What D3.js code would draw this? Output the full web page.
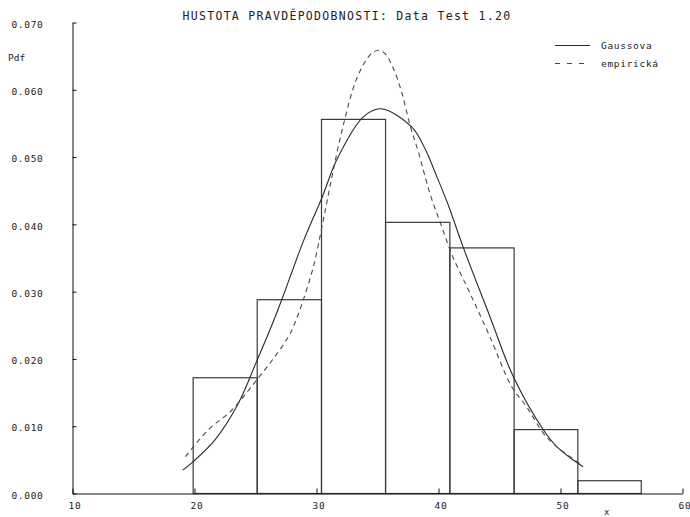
<!DOCTYPE html>
<html>
<head>
<meta charset="utf-8">
<script src="https://cdn.jsdelivr.net/npm/d3@7"></script>
<style>
  html, body { margin: 0; padding: 0; background: #fff; }
  svg { display: block; }
  text { font-family: "DejaVu Sans Mono", monospace; fill: #222; }
</style>
</head>
<body>
<svg id="chart" width="690" height="517"></svg>
<script>
// Histogram bins: edges and density of each bin
const binEdges = [19.89, 25.14, 30.41, 35.66, 40.93, 46.20, 51.42, 56.62];
const binDensity = [0.0172, 0.0288, 0.0556, 0.0403, 0.0365, 0.0095, 0.0019];

// Fitted normal density (x, pdf)
const gaussX = [19.07, 19.89, 21.72, 23.63, 25.14, 26.37, 27.27, 28.96, 30.47, 31.75, 33.88, 35.33,
                37.84, 38.93, 39.75, 40.84, 42.07, 44.26, 46.17, 48.63, 49.73, 51.09, 51.89];
const gaussY = [0.0034, 0.0046, 0.0079, 0.0133, 0.0196, 0.0249, 0.0291, 0.0374, 0.0438, 0.0497, 0.0559, 0.0571,
                0.0544, 0.0512, 0.0477, 0.0428, 0.0365, 0.0262, 0.0173, 0.0094, 0.0069, 0.0049, 0.0039];

// Empirical (kernel) density (x, pdf)
const empX = [19.30, 21.17, 23.09, 25.14, 26.64, 27.73, 28.28, 28.96, 29.78, 30.47, 30.88, 31.42, 32.24,
              33.34, 34.43, 35.11, 35.66, 36.34, 37.02, 37.70, 38.39, 39.34, 40.30, 41.19, 42.62, 44.26,
              46.04, 47.27, 48.63, 49.73, 51.37, 51.80];
const empY = [0.0054, 0.0094, 0.0123, 0.0168, 0.0203, 0.0232, 0.0253, 0.0287, 0.0336, 0.0394, 0.0431, 0.0480, 0.0547,
              0.0616, 0.0651, 0.0658, 0.0653, 0.0631, 0.0596, 0.0547, 0.0507, 0.0445, 0.0396, 0.0352, 0.0297, 0.0232,
              0.0158, 0.0128, 0.0089, 0.0069, 0.0047, 0.0042];

const xTicks = [10, 20, 30, 40, 50, 60];
const yTicks = [0, 0.01, 0.02, 0.03, 0.04, 0.05, 0.06, 0.07];

const titleText = "HUSTOTA PRAVDĚPODOBNOSTI: Data Test 1.20";
const legendLabels = ["Gaussova", "empirická"];

const svg = d3.select("#chart");
const x = d3.scaleLinear().domain([10, 60]).range([72, 682]);
const y = d3.scaleLinear().domain([0, 0.07]).range([493, 22]);

// Histogram bars
const bins = binDensity.map((d, i) => ({ x0: binEdges[i], x1: binEdges[i + 1], v: d }));
svg.append("g")
  .selectAll("rect")
  .data(bins)
  .join("rect")
  .attr("x", d => x(d.x0) + 0.5)
  .attr("y", d => y(d.v) + 0.5)
  .attr("width", d => x(d.x1) - x(d.x0))
  .attr("height", d => y(0) - y(d.v))
  .attr("fill", "none")
  .attr("stroke", "#3a3a3a")
  .attr("stroke-width", 1.2);

// Density curves
const line = d3.line().x(d => x(d[0])).y(d => y(d[1])).curve(d3.curveCatmullRom.alpha(0.5));
svg.append("path")
  .datum(gaussX.map((v, i) => [v, gaussY[i]]))
  .attr("d", line)
  .attr("fill", "none")
  .attr("stroke", "#2a2a2a")
  .attr("stroke-width", 1.1);
svg.append("path")
  .datum(empX.map((v, i) => [v, empY[i]]))
  .attr("d", line)
  .attr("fill", "none")
  .attr("stroke", "#4a4a4a")
  .attr("stroke-width", 1.1)
  .attr("stroke-dasharray", "5,4");

// Axes
const xAxis = d3.axisBottom(x)
  .tickValues(xTicks)
  .tickFormat(d3.format("d"))
  .tickSizeInner(-5)
  .tickSizeOuter(0)
  .tickPadding(9);
const gx = svg.append("g").attr("transform", `translate(0.5,${y(0) + 0.5})`).call(xAxis);

const yAxis = d3.axisLeft(y)
  .tickValues(yTicks)
  .tickFormat(d3.format(".3f"))
  .tickSizeInner(-4)
  .tickSizeOuter(0)
  .tickPadding(29);
const gy = svg.append("g").attr("transform", `translate(${x(10) + 0.5},0.5)`).call(yAxis);

[gx, gy].forEach(g => {
  g.select(".domain").attr("stroke", "#111");
  g.selectAll(".tick line").attr("stroke", "#111");
  g.selectAll(".tick text")
    .attr("font-family", "DejaVu Sans Mono, monospace")
    .attr("font-size", 9.5)
    .attr("letter-spacing", 0.7)
    .attr("fill", "#222");
});
gy.selectAll(".tick text").attr("dy", "0.5em");
gx.selectAll(".tick text").attr("dx", "0.2em");

// Title and axis names
svg.append("text")
  .attr("x", 347).attr("y", 20)
  .attr("text-anchor", "middle")
  .attr("font-size", 11.5)
  .attr("letter-spacing", 1.3)
  .text(titleText);

svg.append("text")
  .attr("x", 8).attr("y", 61)
  .attr("font-size", 9.5)
  .text("Pdf");

svg.append("text")
  .attr("x", 604).attr("y", 515)
  .attr("font-size", 9)
  .text("x");

// Legend
const legend = svg.append("g");
legendLabels.forEach((lab, i) => {
  const ly = 45 + i * 18;
  legend.append("line")
    .attr("x1", 555).attr("x2", 590)
    .attr("y1", ly + 0.5).attr("y2", ly + 0.5)
    .attr("stroke", i === 0 ? "#2a2a2a" : "#4a4a4a")
    .attr("stroke-width", 1.1)
    .attr("stroke-dasharray", i === 0 ? null : "5,7");
  legend.append("text")
    .attr("x", 601).attr("y", ly + 3.5)
    .attr("font-size", 9.5)
    .attr("letter-spacing", 0.7)
    .text(lab);
});
</script>
</body>
</html>
